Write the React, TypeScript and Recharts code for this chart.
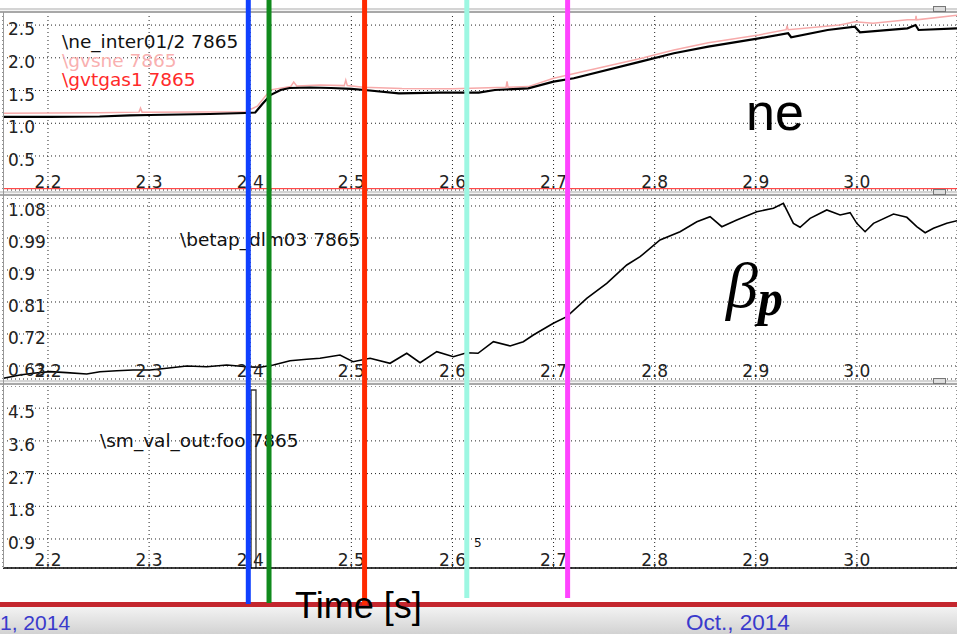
import React from "react";
import { LineChart, Line, XAxis, YAxis, CartesianGrid, ReferenceLine } from "recharts";

// time axis shared by all panels
const T_MIN = 2.1555;
const T_MAX = 3.099;
const timeTicks = [2.2, 2.3, 2.4, 2.5, 2.6, 2.7, 2.8, 2.9, 3.0];

const neTicks = [0.5, 1.0, 1.5, 2.0, 2.5];
const betapTicks = [0.63, 0.72, 0.81, 0.9, 0.99, 1.08];
const smTicks = [0.9, 1.8, 2.7, 3.6, 4.5];

// \ne_inter01/2 7865
const neTime = [2.1555, 2.202, 2.251, 2.281, 2.301, 2.331, 2.36, 2.395, 2.405, 2.412, 2.42, 2.43, 2.439, 2.459, 2.48, 2.5, 2.513, 2.547, 2.587, 2.626, 2.642, 2.675, 2.7, 2.72, 2.786, 2.819, 2.853, 2.903, 2.932, 2.935, 2.971, 2.998, 3.003, 3.05, 3.058, 3.061, 3.099];
const neInter = [1.096, 1.096, 1.103, 1.119, 1.126, 1.134, 1.141, 1.157, 1.164, 1.294, 1.431, 1.508, 1.539, 1.546, 1.539, 1.524, 1.508, 1.458, 1.467, 1.467, 1.508, 1.534, 1.635, 1.687, 1.941, 2.069, 2.17, 2.298, 2.375, 2.314, 2.425, 2.476, 2.39, 2.451, 2.501, 2.425, 2.451];

// \gvsne 7865
const gvsneTime = [2.1555, 2.25, 2.29, 2.2915, 2.293, 2.35, 2.395, 2.407, 2.42, 2.44, 2.443, 2.446, 2.469, 2.493, 2.4945, 2.496, 2.512, 2.55, 2.6, 2.627, 2.653, 2.654, 2.655, 2.675, 2.7, 2.786, 2.819, 2.853, 2.903, 2.93, 2.931, 2.932, 2.983, 2.998, 3.016, 3.05, 3.058, 3.0585, 3.059, 3.099];
const gvsne = [1.152, 1.16, 1.17, 1.23, 1.17, 1.172, 1.177, 1.26, 1.51, 1.56, 1.63, 1.57, 1.585, 1.575, 1.66, 1.575, 1.55, 1.53, 1.528, 1.54, 1.55, 1.64, 1.55, 1.56, 1.687, 1.99, 2.12, 2.23, 2.35, 2.43, 2.49, 2.43, 2.5, 2.55, 2.53, 2.58, 2.58, 2.64, 2.58, 2.65];

// \gvtgas1 7865
const gvtgasTime = [2.1555, 3.099];
const gvtgas1 = [0.0, 0.0];

// \betap_dlm03 7865
const betapTime = [2.1558, 2.1723, 2.1852, 2.202, 2.2185, 2.2383, 2.2514, 2.268, 2.2841, 2.3009, 2.3174, 2.3372, 2.357, 2.3768, 2.3965, 2.4097, 2.4229, 2.4394, 2.4559, 2.469, 2.4888, 2.5017, 2.5185, 2.5383, 2.5548, 2.568, 2.5845, 2.6009, 2.6141, 2.6253, 2.6405, 2.657, 2.6701, 2.68, 2.6998, 2.7131, 2.7328, 2.7526, 2.7724, 2.7856, 2.8053, 2.8251, 2.8417, 2.8548, 2.8664, 2.8812, 2.901, 2.9174, 2.9273, 2.9372, 2.9438, 2.9537, 2.9702, 2.9834, 2.9933, 2.9999, 3.0081, 3.0164, 3.0362, 3.0494, 3.0592, 3.0675, 3.0757, 3.0889, 3.0991];
const betap = [0.5954, 0.6047, 0.6095, 0.614, 0.6112, 0.6075, 0.614, 0.6168, 0.6188, 0.6188, 0.6235, 0.63, 0.628, 0.6328, 0.628, 0.6263, 0.6328, 0.6449, 0.6488, 0.6517, 0.6609, 0.6421, 0.6517, 0.6376, 0.6657, 0.6393, 0.6702, 0.6562, 0.6674, 0.6657, 0.6983, 0.6863, 0.6983, 0.7172, 0.7501, 0.7687, 0.8204, 0.8626, 0.9141, 0.9374, 0.9844, 1.0077, 1.0358, 1.0499, 1.0218, 1.0406, 1.064, 1.0735, 1.0876, 1.0313, 1.0201, 1.0454, 1.0688, 1.0547, 1.0612, 1.0313, 1.0077, 1.0313, 1.0575, 1.0482, 1.0218, 1.0049, 1.0173, 1.0313, 1.0387];

// \sm_val_out:foo 7865
const smTime = [2.1555, 2.4008, 2.4008, 2.4057, 2.4057, 3.099];
const smVal = [0, 0, 5, 5, 0, 0];

// coloured time markers
const markerTimes = [2.3981, 2.4186, 2.5131, 2.6142, 2.7139];
const markerColors = ["#1040ff", "#108a1c", "#ff2a00", "#9df7e2", "#ff44ff"];
const markerEnds = [604, 603, 605, 598, 598];

const rows = (ts: number[], vs: number[]) => ts.map((t, i) => ({ t, v: vs[i] }));

const W = 957;
const tickFont = "'DejaVu Sans', Verdana, sans-serif";

type Series = { data: { t: number; v: number }[]; color: string; width: number };

function Panel(props: {
  top: number;
  height: number;
  domain: [number, number];
  yTicks: number[];
  fmt: (v: number) => string;
  series: Series[];
  bottomAxis?: boolean;
}) {
  const { top, height, domain, yTicks, fmt, series, bottomAxis } = props;
  // axes need a size of at least 1px to be drawn
  return (
    <div style={{ position: "absolute", left: 0, top }}>
      <LineChart width={W} height={height + 1} margin={{ top: 0, right: 0, bottom: 0, left: 2 }}>
        <CartesianGrid stroke="#222" strokeDasharray="1 3" />
        <XAxis
          type="number"
          dataKey="t"
          domain={[T_MIN, T_MAX]}
          ticks={timeTicks}
          interval={0}
          allowDataOverflow
          height={1}
          tickLine={false}
          axisLine={bottomAxis ? { stroke: "#000", strokeWidth: 1.5 } : false}
          tick={(p: any) => (
            <text key={"x" + p.index} x={p.x} y={height - 2} textAnchor="middle" fontFamily={tickFont} fontSize={17} fill="#222">
              {Number(p.payload.value).toFixed(1)}
            </text>
          )}
        />
        <YAxis
          type="number"
          domain={domain}
          ticks={yTicks}
          interval={0}
          allowDataOverflow
          width={1}
          tickLine={false}
          axisLine={false}
          tick={(p: any) => (
            <text key={"y" + p.index} x={8} y={p.y + 10} textAnchor="start" fontFamily={tickFont} fontSize={17} fill="#222">
              {fmt(p.payload.value)}
            </text>
          )}
        />
        {series.map((s, i) => (
          <Line
            key={i}
            data={s.data}
            dataKey="v"
            type="linear"
            stroke={s.color}
            strokeWidth={s.width}
            dot={false}
            isAnimationActive={false}
          />
        ))}
      </LineChart>
    </div>
  );
}

const border = (top: number) => (
  <div key={"b" + top}>
    <div style={{ position: "absolute", left: 0, top, width: W, height: 2, background: "#d4d4d4" }} />
    <div style={{ position: "absolute", left: 0, top: top + 2, width: W, height: 1, background: "#f4f4f4" }} />
    <div style={{ position: "absolute", left: 0, top: top + 3, width: W, height: 2, background: "#a8a8a8" }} />
    <div style={{ position: "absolute", left: 933, top: top - 2, width: 11, height: 4, border: "1px solid #777", background: "#ddd" }} />
  </div>
);

export default function App() {
  const markerRows = markerTimes.map((t) => ({ t }));
  return (
    <div style={{ position: "absolute", left: 0, top: 0, width: W, height: 634, overflow: "hidden", background: "#fff" }}>
      <Panel
        top={12}
        height={178}
        domain={[-0.02, 2.7]}
        yTicks={neTicks}
        fmt={(v) => v.toFixed(1)}
        series={[
          { data: rows(gvtgasTime, gvtgas1), color: "#ff2020", width: 1 },
          { data: rows(gvsneTime, gvsne), color: "#f7aaaa", width: 1.5 },
          { data: rows(neTime, neInter), color: "#000", width: 2.2 },
        ]}
      />
      <Panel
        top={198}
        height={181}
        domain={[0.5934, 1.1025]}
        yTicks={betapTicks}
        fmt={(v) => String(Number(v.toFixed(2)))}
        series={[{ data: rows(betapTime, betap), color: "#000", width: 1.6 }]}
      />
      <Panel
        top={386}
        height={182}
        domain={[0.102, 5.11]}
        yTicks={smTicks}
        fmt={(v) => String(Number(v.toFixed(1)))}
        series={[{ data: rows(smTime, smVal), color: "#333", width: 1.3 }]}
        bottomAxis
      />
      {border(8)}
      {border(191)}
      {border(380)}
      <div style={{ position: "absolute", left: 3, top: 12, width: 1, height: 556, background: "#999" }} />

      <svg width={W} height={634} style={{ position: "absolute", left: 0, top: 0 }}>
        <g fontFamily={tickFont} fontSize={18.5}>
          <text x={62} y={48} fill="#111">\ne_inter01/2 7865</text>
          <text x={62} y={67} fill="#f9b0b0">\gvsne 7865</text>
          <text x={62} y={86} fill="#ff2a2a">\gvtgas1 7865</text>
          <text x={180} y={246} fill="#111">\betap_dlm03 7865</text>
          <text x={100} y={447} fill="#111">\sm_val_out:foo 7865</text>
          <text x={474} y={547} fill="#111" fontSize={12}>5</text>
        </g>
        <text x={746} y={130} fontFamily="'Liberation Sans', Arial, sans-serif" fontSize={52} fill="#000">ne</text>
        <text x={726} y={307} fontFamily="'Liberation Serif', 'DejaVu Serif', serif" fontStyle="italic" fontSize={64} fill="#000">
          β
          <tspan dy={8} fontSize={50} fontWeight="bold">p</tspan>
        </text>
      </svg>

      <div style={{ position: "absolute", left: 0, top: 602, width: W, height: 5, background: "#c4262e" }} />
      <div style={{ position: "absolute", left: 0, top: 607, width: W, height: 27, background: "linear-gradient(#f3f3f3, #d2d2d2)" }} />

      <div style={{ position: "absolute", left: 0, top: 0 }}>
        <LineChart width={W} height={634} margin={{ top: 0, right: 0, bottom: 0, left: 3 }} data={markerRows}>
          <XAxis type="number" dataKey="t" domain={[T_MIN, T_MAX]} hide allowDataOverflow />
          <YAxis type="number" domain={[0, 634]} reversed hide allowDataOverflow />
          {markerTimes.map((t, i) => (
            <ReferenceLine
              key={i}
              segment={[{ x: t, y: 0 }, { x: t, y: markerEnds[i] }]}
              stroke={markerColors[i]}
              strokeWidth={5}
              ifOverflow="visible"
            />
          ))}
        </LineChart>
      </div>

      <svg width={W} height={634} style={{ position: "absolute", left: 0, top: 0 }}>
        <text x={295} y={618} fontFamily="'Liberation Sans', Arial, sans-serif" fontSize={36} fill="#000">Time [s]</text>
        <text x={0} y={630} fontFamily="'Liberation Sans', Arial, sans-serif" fontSize={21} fill="#3a3acc">1, 2014</text>
        <text x={686} y={630} fontFamily="'Liberation Sans', Arial, sans-serif" fontSize={22.5} fill="#3a3acc">Oct., 2014</text>
      </svg>
    </div>
  );
}
